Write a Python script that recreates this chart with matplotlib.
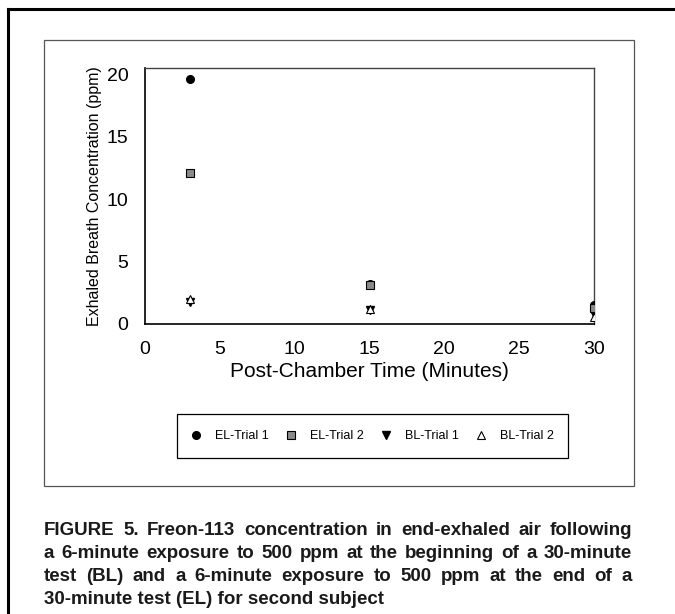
import matplotlib
matplotlib.use("Agg")
import matplotlib.pyplot as plt
from matplotlib.lines import Line2D
from matplotlib.patches import Rectangle

# Data
times = [3, 15, 30]
el_trial1 = [19.6, 3.2, 1.5]
el_trial2 = [12.1, 3.1, 1.3]
bl_trial1 = [1.8, 1.1, 0.8]
bl_trial2 = [2.0, 1.2, 0.6]
series_labels = ["EL-Trial 1", "EL-Trial 2", "BL-Trial 1", "BL-Trial 2"]
x_ticks = [0, 5, 10, 15, 20, 25, 30]
y_ticks = [0, 5, 10, 15, 20]
caption_lines = [
    "FIGURE 5. Freon-113 concentration in end-exhaled air following",
    "a 6-minute exposure to 500 ppm at the beginning of a 30-minute",
    "test (BL) and a 6-minute exposure to 500 ppm at the end of a",
    "30-minute test (EL) for second subject",
]

plt.rcParams["font.family"] = ["Liberation Sans", "DejaVu Sans"]

W, H = 675, 614
fig = plt.figure(figsize=(W / 100, H / 100), dpi=100)
fig.patch.set_facecolor("white")

def fx(px):
    return px / W

def fy(py):
    return 1 - py / H

# Outer frame (partially cropped)
fig.add_artist(Line2D([fx(8), fx(8)], [fy(9), 0], color="black", lw=2.2, transform=fig.transFigure))
fig.add_artist(Line2D([fx(8), 1], [fy(9), fy(9)], color="black", lw=2.2, transform=fig.transFigure))

# Inner box
fig.add_artist(Rectangle((fx(44), fy(486)), fx(634) - fx(44), fy(40) - fy(486),
                         transform=fig.transFigure, fill=False, edgecolor="#555555", lw=0.9))

ax = fig.add_axes([fx(145), fy(324), fx(594) - fx(145), fy(68) - fy(324)])
ms = 5.5
ax.plot(times, el_trial1, linestyle="none", marker="o", ms=ms, color="black", label=series_labels[0], zorder=3)
ax.plot(times, el_trial2, linestyle="none", marker="s", ms=ms, markerfacecolor="#8a8a8a",
        markeredgecolor="black", mew=0.8, label=series_labels[1], zorder=4)
ax.plot(times, bl_trial1, linestyle="none", marker="v", ms=ms, color="black", label=series_labels[2], zorder=3)
ax.plot(times, bl_trial2, linestyle="none", marker="^", ms=ms, markerfacecolor="white",
        markeredgecolor="black", mew=0.8, label=series_labels[3], zorder=4)

ax.set_xlim(0, 30)
ax.set_ylim(0, 20.5)
ax.set_xticks(x_ticks)
ax.set_yticks(y_ticks)
ax.tick_params(length=0, labelsize=14, pad=12)
ax.tick_params(axis="y", pad=12)
for s in ["left", "bottom"]:
    ax.spines[s].set_color("black")
    ax.spines[s].set_linewidth(1.2)
for s in ["top", "right"]:
    ax.spines[s].set_color("#444444")
    ax.spines[s].set_linewidth(1.0)
ax.set_xlabel("Post-Chamber Time (Minutes)", fontsize=15, labelpad=3)
ax.set_ylabel("Exhaled Breath Concentration (ppm)", fontsize=11.5, labelpad=3)

# Legend box drawn explicitly
fig.add_artist(Rectangle((fx(177), fy(458)), fx(568) - fx(177), fy(414) - fy(458),
                         transform=fig.transFigure, fill=False, edgecolor="black", lw=0.9))
handles, labels = ax.get_legend_handles_labels()
leg = fig.legend(handles, labels, loc="center", ncol=4,
                 bbox_to_anchor=(fx((177 + 568) / 2), fy(436)),
                 frameon=False, fontsize=9,
                 handletextpad=1.1, columnspacing=1.4, handlelength=0.8,
                 borderpad=0.5, markerscale=1.0)

# Caption, justified
cap_font = dict(fontsize=13.5, fontweight="bold", family=["Liberation Sans", "DejaVu Sans"], color="#1a1a1a")
left_px, right_px = 44, 632
line_y = [535, 558, 581, 604]
fig.canvas.draw()
renderer = fig.canvas.get_renderer()
for i, (line, ypx) in enumerate(zip(caption_lines, line_y)):
    if i == len(caption_lines) - 1:
        fig.text(fx(left_px), fy(ypx), line, va="baseline", ha="left", **cap_font)
        continue
    words = line.split(" ")
    texts = [fig.text(0, fy(ypx), w, va="baseline", ha="left", **cap_font) for w in words]
    widths = [t.get_window_extent(renderer).width for t in texts]
    gap = (right_px - left_px - sum(widths)) / (len(words) - 1)
    x = left_px
    for t, w in zip(texts, widths):
        t.set_x(fx(x))
        x += w + gap

fig.savefig("out.png", dpi=100)
